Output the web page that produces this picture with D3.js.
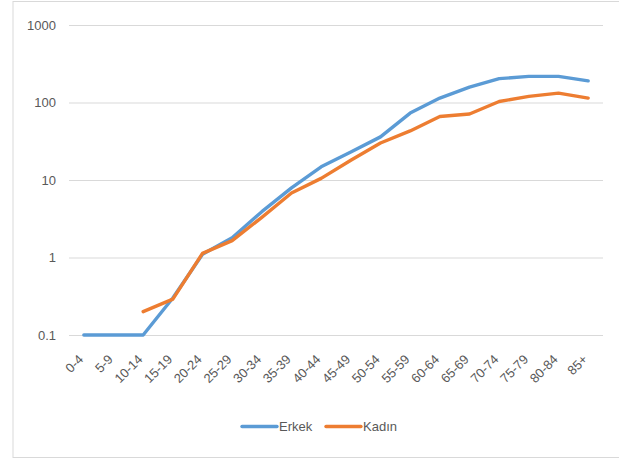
<!DOCTYPE html>
<html><head><meta charset="utf-8">
<script src="https://cdn.jsdelivr.net/npm/d3@7"></script>
<style>body{margin:0;background:#fff}svg{display:block}</style>
</head><body>
<script>
const categories = ["0-4","5-9","10-14","15-19","20-24","25-29","30-34","35-39","40-44","45-49","50-54","55-59","60-64","65-69","70-74","75-79","80-84","85+"];
const erkek = [0.1,0.1,0.1,0.3,1.1,1.8,3.9,7.9,14.8,23,36,73,114,158,203,217,217,190];
const kadin = [null,null,0.2,0.29,1.13,1.65,3.3,6.8,10.5,18,30,43,66,71,103,120,132,114];
const yTicks = [0.1,1,10,100,1000];
const seriesNames = ["Erkek","Kadın"];
const colors = ["#5B9BD5","#ED7D31"];

const W=619,H=459;
const svg=d3.select("body").append("svg").attr("width",W).attr("height",H);
svg.append("rect").attr("x",13).attr("y",1.5).attr("width",W+10).attr("height",456).attr("fill","#fff").attr("stroke","#d9d9d9").attr("stroke-width",1);

const x=d3.scaleBand().domain(categories).range([69,603]);
const y=d3.scaleLog().domain([0.1,1000]).range([335,25]);
const font="'Liberation Sans Narrow','Liberation Sans',sans-serif";

const yAxis=svg.append("g").attr("transform","translate(69,0)")
 .call(d3.axisLeft(y).tickValues(yTicks).tickFormat(d=>String(d)).tickSize(-534).tickPadding(13));
yAxis.select(".domain").remove();
yAxis.selectAll("line").attr("stroke","#d9d9d9").attr("stroke-width",1);
yAxis.selectAll("text").attr("fill","#595959").style("font-family",font).style("font-size","13px");

const xAxis=svg.append("g").attr("transform","translate(0,335)")
 .call(d3.axisBottom(x).tickSize(0));
xAxis.select(".domain").remove();
xAxis.selectAll("text").attr("fill","#595959").style("font-family",font).style("font-size","13px")
 .attr("text-anchor","end").attr("dy","0.35em").attr("transform","translate(-3,22) rotate(-45)").attr("y",0).attr("x",0);

const line=d3.line().defined(d=>d.v!=null).x(d=>x(d.c)+x.bandwidth()/2).y(d=>y(d.v));
[erkek,kadin].forEach((s,i)=>{
  svg.append("path").datum(categories.map((c,j)=>({c,v:s[j]})))
   .attr("d",line).attr("fill","none").attr("stroke",colors[i]).attr("stroke-width",3.4).attr("stroke-linejoin","round").attr("stroke-linecap","round");
});

const legX=[242,326];
seriesNames.forEach((n,i)=>{
  const g=svg.append("g");
  g.append("line").attr("x1",legX[i]).attr("x2",legX[i]+35).attr("y1",426.5).attr("y2",426.5).attr("stroke",colors[i]).attr("stroke-width",3.4).attr("stroke-linecap","round");
  g.append("text").attr("x",legX[i]+37).attr("y",426.5).attr("dy","0.35em").attr("fill","#595959").style("font-family",font).style("font-size","13px").text(n);
});
</script>
</body></html>
